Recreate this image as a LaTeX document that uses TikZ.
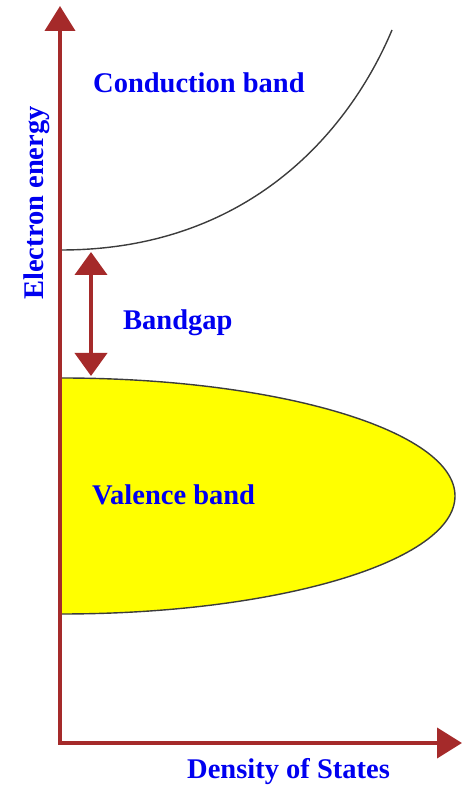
\documentclass[tikz,border=0pt]{standalone}
\usepackage{fontspec}
\setmainfont{Liberation Serif}
\usepackage{xcolor}
\usetikzlibrary{positioning,arrows.meta}

\definecolor{axisred}{RGB}{165,42,42}
\definecolor{labelblue}{RGB}{0,0,240}
\definecolor{curvegray}{RGB}{60,60,60}
\definecolor{bandyellow}{RGB}{255,255,0}

\begin{document}
\begin{tikzpicture}[
    x=1pt, y=1pt,
    label/.style={text=labelblue, font=\fontsize{28.5}{32}\selectfont\bfseries, inner sep=0pt},
    axis/.style={draw=axisred, line width=4pt, -{Triangle[width=30pt,length=25pt]}},
    gaparrow/.style={draw=axisred, line width=4pt, {Triangle[width=32pt,length=23pt]}-{Triangle[width=32pt,length=23pt]}},
    band/.style={draw=curvegray, line width=1.4pt}
]
\useasboundingbox (0,0) rectangle (469,786);

% key points
\coordinate (origin) at (60,43);
\coordinate (xstart) at (58,43);
\coordinate (ystart) at (60,41);
\coordinate (xtip) at (462,43);
\coordinate (ytip) at (60,780);
\coordinate (cbmin) at (61,536);
\coordinate (cbend) at (392,756);
\coordinate (vbtop) at (61,408);
\coordinate (gaptop) at (91,534);
\coordinate (gapbot) at (91,410);

% valence band
\path[band, fill=bandyellow] (vbtop) arc[start angle=90, end angle=-90, x radius=394, y radius=118];

% conduction band
\draw[band] (cbmin) .. controls (250,536) and (350,656) .. (cbend);

% axes
\draw[axis] (ystart) -- (ytip);
\draw[axis] (xstart) -- (xtip);

% bandgap
\draw[gaparrow] (gaptop) -- (gapbot);

% labels
\node[label, anchor=base west] (cblabel) at (93,693) {Conduction band};
\node[label, anchor=base west] (gaplabel) at (123,456) {Bandgap};
\node[label, anchor=base west] (vblabel) at (92,281) {Valence band};
\node[label, anchor=base west] (xlabel) at (187,7) {Density of States};
\node[label, anchor=base, rotate=90] (ylabel) at (43,583) {Electron energy};
\end{tikzpicture}
\end{document}
